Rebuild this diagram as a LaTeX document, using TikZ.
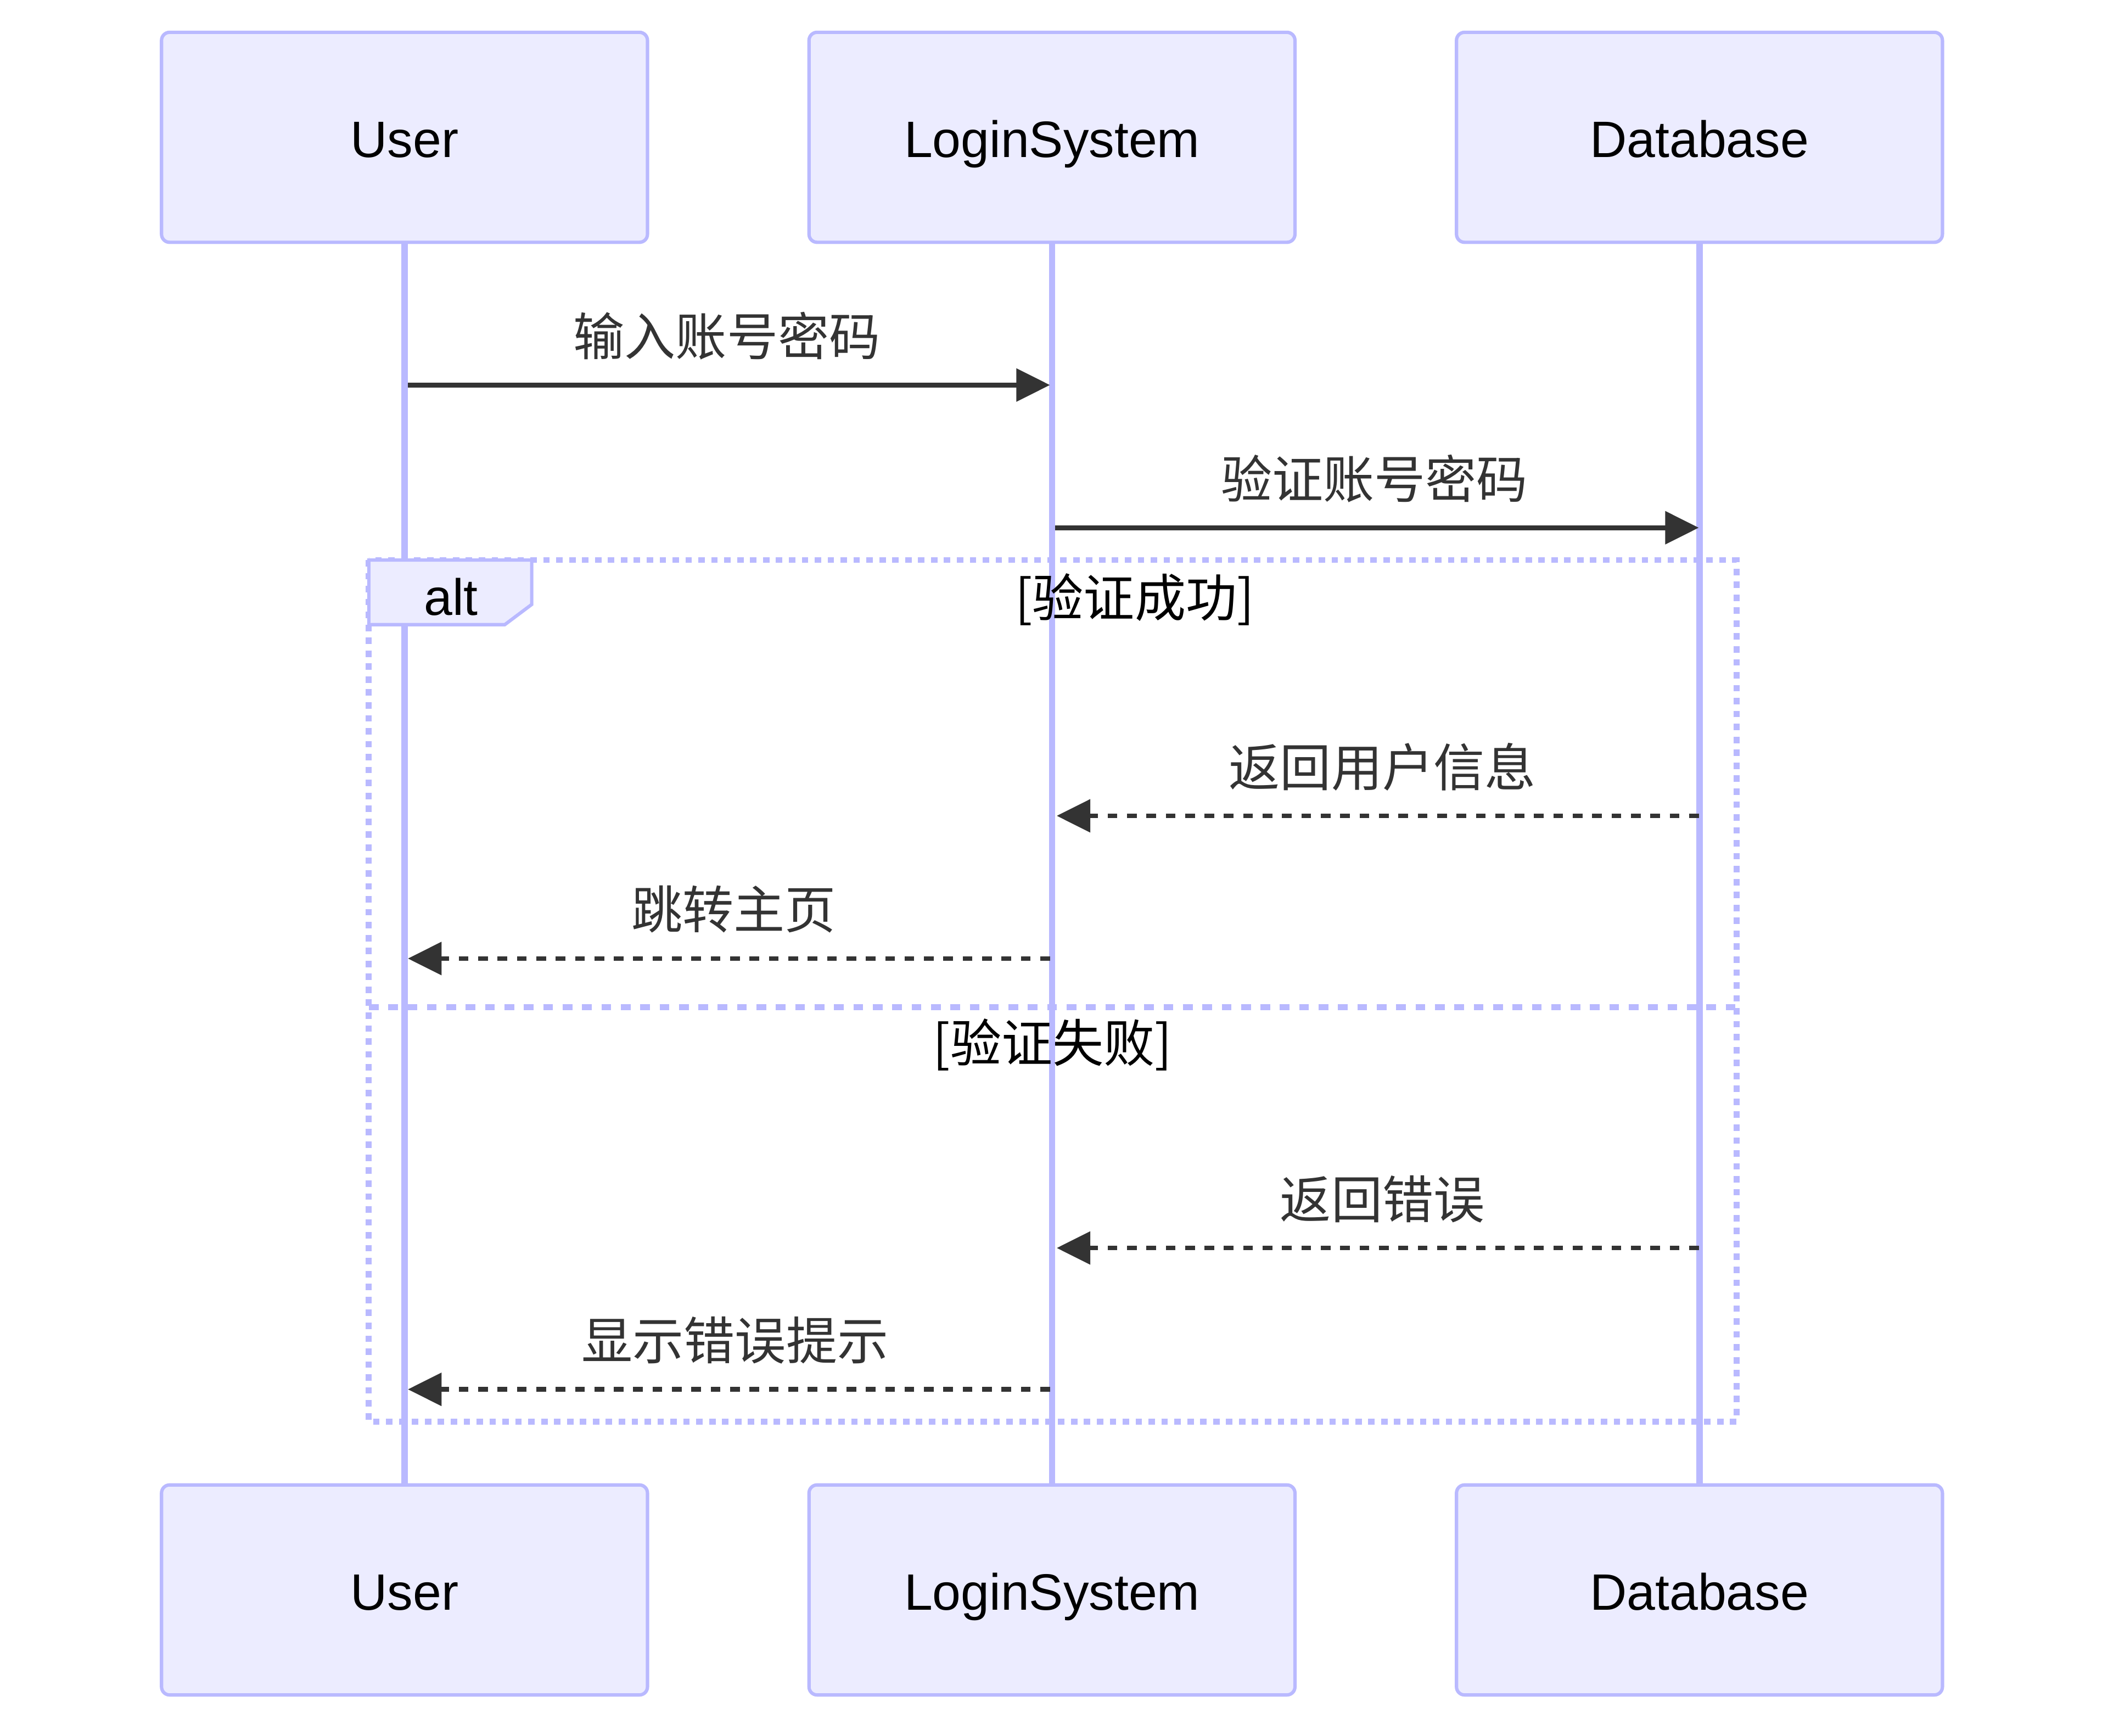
\documentclass[tikz,border=0pt]{standalone}
\usepackage{fontspec}
\setmainfont{Liberation Sans}
\newfontfamily\cjk{Noto Sans CJK SC}
\usetikzlibrary{positioning, arrows.meta}
\definecolor{actorfill}{HTML}{ECECFF}
\definecolor{actorline}{HTML}{B9B9FF}
\definecolor{msgcolor}{HTML}{333333}
\newcommand{\seqsize}{\fontsize{38}{46}\selectfont}

\begin{document}
\begin{tikzpicture}
        [
            x=1pt, y=-1pt,
            actor/.style = {draw=actorline, fill=actorfill, line width=2.5pt, rounded corners=6pt, minimum width=361pt, minimum height=156pt, text height=30pt, text depth=0pt, inner sep=0pt, outer sep=0pt, font=\seqsize},
            lifeline/.style = {draw=actorline, line width=4.7pt},
            msg/.style = {draw=msgcolor, line width=3.5pt, -{Triangle[length=25pt, width=24pt]}},
            reply/.style = {msg, dash pattern=on 7.2pt off 7.2pt},
            msglabel/.style = {anchor=base, text=msgcolor, inner sep=0pt, font={\seqsize\cjk}},
            altframe/.style = {draw=actorline, line width=4.4pt, dash pattern=on 4.8pt off 4.8pt},
            altsep/.style = {draw=actorline, line width=4.4pt, dash pattern=on 7.2pt off 7.2pt},
            alttag/.style = {draw=actorline, fill=actorfill, line width=2.5pt},
            condlabel/.style = {anchor=base, inner sep=0pt, font={\seqsize\cjk}},
            node distance=120pt
        ]%
        \useasboundingbox (0,0) rectangle (1566,1289.1);
        % participants
        \node[actor] (user) at (300.5,102) {User};
        \node[actor, right=120pt of user] (login) {LoginSystem};
        \node[actor, right=120pt of login] (db) {Database};
        \node[actor, below=923pt of user] (userbot) {User};
        \node[actor, below=923pt of login] (loginbot) {LoginSystem};
        \node[actor, below=923pt of db] (dbbot) {Database};
        \draw[lifeline] (user.south) -- (userbot.north);
        \draw[lifeline] (login.south) -- (loginbot.north);
        \draw[lifeline] (db.south) -- (dbbot.north);
        % alt block
        \draw[altframe] (274,416) rectangle (1290,1056);
        \draw[altsep] (274,748) -- (1290,748);
        \draw[alttag] (274,416) -- (395,416) -- (395,449) -- (375,464) -- (274,464) -- cycle;
        \node[anchor=base, inner sep=0pt, font=\seqsize] (altname) at (335,457) {alt};
        \node[condlabel] (okcond) at (843,458) {[验证成功]};
        \node[condlabel] (failcond) at (782,789) {[验证失败]};
        % messages
        \coordinate (u1) at (303,286);
        \coordinate (l1) at (780,286);
        \coordinate (l2) at (784,392);
        \coordinate (d2) at (1262,392);
        \coordinate (d3) at (1262,606);
        \coordinate (l3) at (785,606);
        \coordinate (l4) at (780,712);
        \coordinate (u4) at (303,712);
        \coordinate (d5) at (1262,927);
        \coordinate (l5) at (785,927);
        \coordinate (l6) at (780,1032);
        \coordinate (u6) at (303,1032);
        \draw[msg] (u1) -- (l1);
        \draw[msg] (l2) -- (d2);
        \draw[reply] (d3) -- (l3);
        \draw[reply] (l4) -- (u4);
        \draw[reply] (d5) -- (l5);
        \draw[reply] (l6) -- (u6);
        \node[msglabel] (input) at (540,264) {输入账号密码};
        \node[msglabel] (verify) at (1021,370) {验证账号密码};
        \node[msglabel] (info) at (1027,584) {返回用户信息};
        \node[msglabel] (home) at (545,690) {跳转主页};
        \node[msglabel] (error) at (1027,905) {返回错误};
        \node[msglabel] (hint) at (546,1010) {显示错误提示};
\end{tikzpicture}
\end{document}
